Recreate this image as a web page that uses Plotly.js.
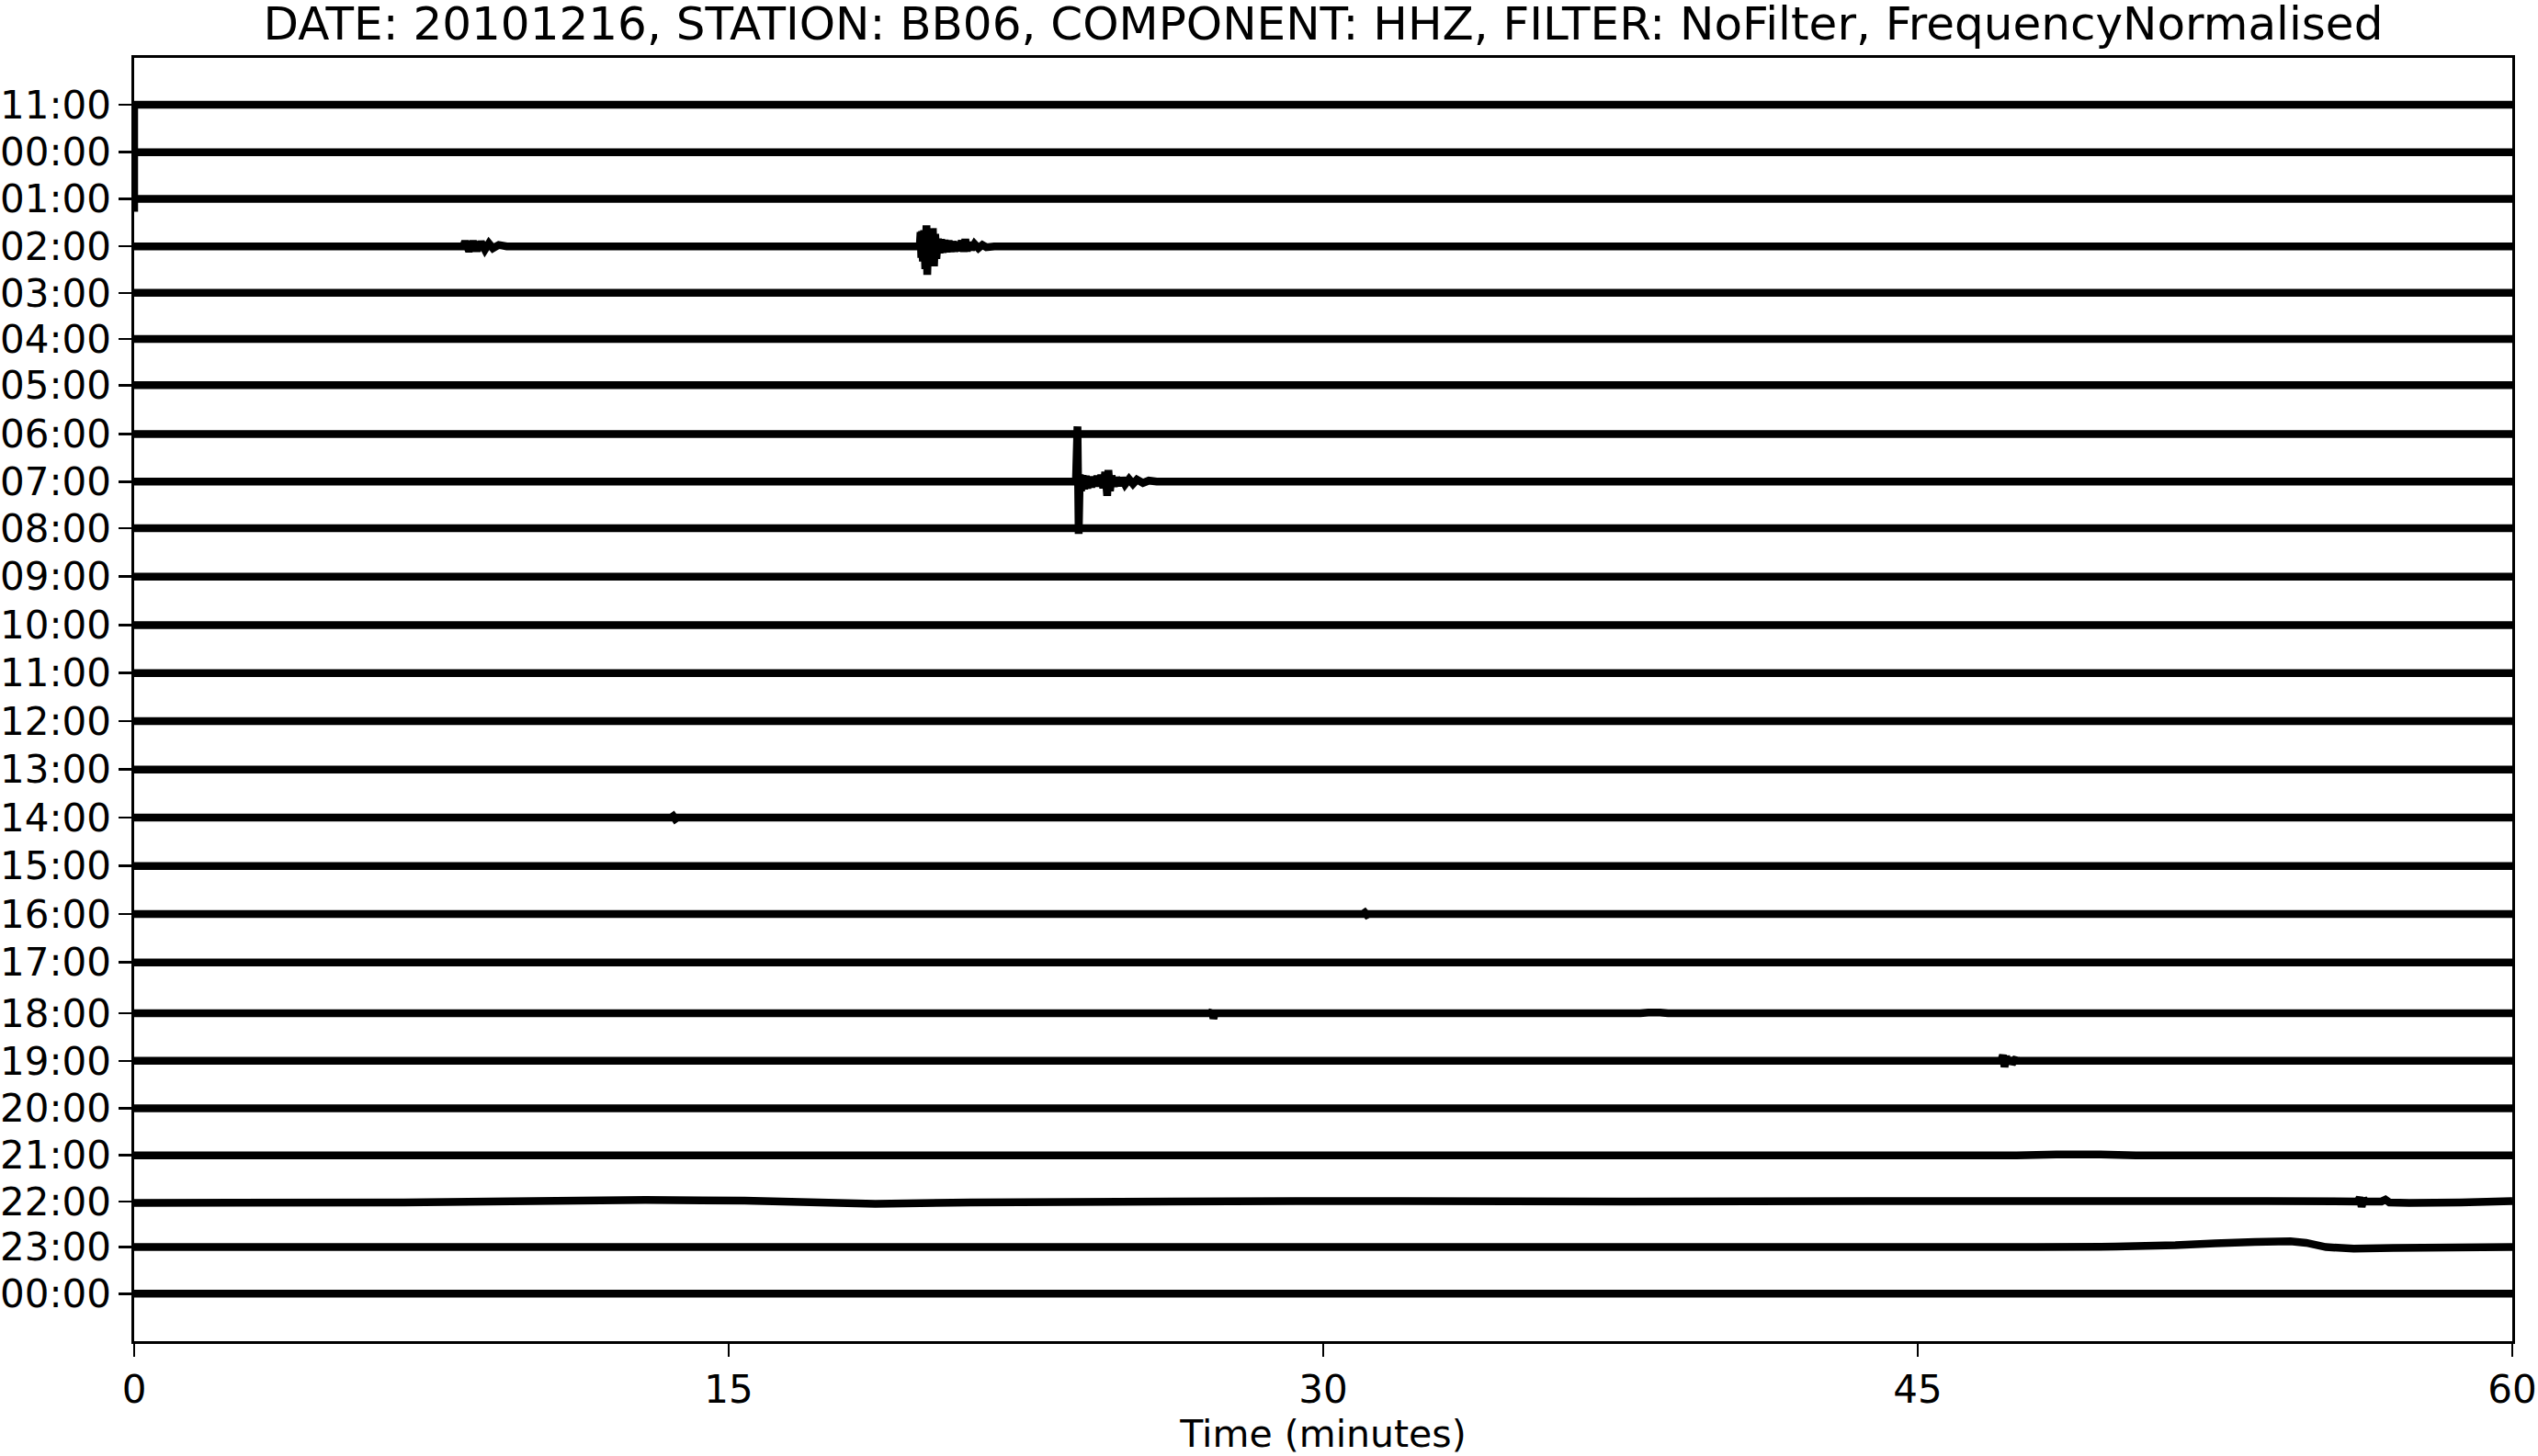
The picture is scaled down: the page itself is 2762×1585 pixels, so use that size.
<!DOCTYPE html>
<html>
<head>
<meta charset="utf-8">
<script src="https://cdn.plot.ly/plotly-3.0.1.min.js"></script>
<style>html,body{margin:0;padding:0;background:#fff;}#chart{width:2762px;height:1585px;}</style>
</head>
<body>
<div id="chart"></div>
<script>
// ---- data ----
const hourLabels = ['11:00','00:00','01:00','02:00','03:00','04:00','05:00','06:00','07:00',
  '08:00','09:00','10:00','11:00','12:00','13:00','14:00','15:00','16:00','17:00','18:00',
  '19:00','20:00','21:00','22:00','23:00','00:00'];
// vertical offset of each trace (row units)
const rowOffsets = [0, -1, -1.98, -2.98, -3.96, -4.93, -5.9, -6.93, -7.93, -8.91, -9.93, -10.95,
  -11.96, -12.97, -13.99, -15, -16.02, -17.03, -18.05, -19.12, -20.12, -21.12, -22.11, -23.08,
  -24.04, -25.02];
const xTicks = [0, 15, 30, 45, 60];

// row 0 (11:00): start of the record
const row00Minutes = [0, 0, 0.05, 60];
const row00Amp     = [-2.25, 0, 0, 0];

// row 3 (02:00): small event ~8.5 min and larger event ~20 min
const row03Minutes = [0, 8.3, 8.35, 8.45, 8.55, 8.65, 8.75, 8.85, 8.95, 9.05, 9.2, 9.4,
  19.82, 19.84, 19.86, 19.88, 19.90, 19.93, 19.96, 19.99, 20.01, 20.04, 20.07, 20.10, 20.13,
  20.15, 20.18, 20.21, 20.24, 20.28, 20.32, 20.36, 20.40, 20.45, 20.50, 20.55, 20.60, 20.65,
  20.70, 20.76, 20.82, 20.88, 20.93, 20.97, 21.01, 21.06, 21.12, 21.2, 21.3, 21.4, 21.5, 21.7, 60];
const row03Amp = [0, 0, 0.1, -0.1, 0.1, -0.09, 0.09, -0.07, 0.06, -0.04, 0.03, 0,
  0, 0.3, -0.24, 0.32, -0.32, 0.34, -0.48, 0.44, -0.6, 0.32, -0.37, 0.32, -0.32,
  0.38, -0.42, 0.26, -0.26, 0.16, -0.14, 0.15, -0.13, 0.13, -0.12, 0.12, -0.11, 0.10,
  -0.10, 0.09, -0.09, 0.12, -0.11, 0.15, -0.10, 0.08, -0.06, 0.05, -0.04, 0.03, -0.02, 0, 0];

// row 8 (07:00): strong spike ~23.8 min with coda
const row08Minutes = [0, 23.76, 23.80, 23.83, 23.86, 23.89, 23.93, 23.97, 24.01, 24.05, 24.10,
  24.15, 24.20, 24.25, 24.30, 24.35, 24.40, 24.45, 24.50, 24.55, 24.58, 24.62, 24.66, 24.72,
  24.78, 24.85, 24.92, 25.0, 25.1, 25.2, 25.3, 25.45, 25.6, 25.8, 60];
const row08Amp = [0, 0, 1.16, -1.1, 0.15, -0.2, 0.13, -0.16, 0.12, -0.14, 0.1,
  -0.12, 0.1, -0.1, 0.12, -0.1, 0.14, -0.14, 0.2, -0.3, 0.24, -0.2, 0.12, -0.1,
  0.08, -0.08, 0.07, -0.06, 0.05, -0.05, 0.04, -0.03, 0.02, 0, 0];

// row 15 (14:00) and row 17 (16:00): tiny blips
const row15Minutes = [0, 13.55, 13.6, 13.65, 13.7, 60];
const row15Amp     = [0, 0, 0.03, -0.03, 0, 0];
const row17Minutes = [0, 31.0, 31.05, 31.1, 31.15, 60];
const row17Amp     = [0, 0, 0.03, -0.02, 0, 0];

// row 19 (18:00): blips ~27.2 and ~38.3 min
const row19Minutes = [0, 27.15, 27.2, 27.23, 27.27, 38.0, 38.2, 38.5, 38.7, 60];
const row19Amp     = [0, 0, 0.05, -0.11, 0, 0, 0.015, 0.015, 0, 0];

// row 20 (19:00): blip ~47.2 min
const row20Minutes = [0, 47.1, 47.15, 47.19, 47.23, 47.27, 47.33, 47.38, 47.45, 47.55, 60];
const row20Amp     = [0, 0, 0.12, -0.13, 0.1, -0.05, 0.06, -0.06, 0.02, 0, 0];

// row 22 (21:00): slight swell ~49 min
const row22Minutes = [0, 47.5, 48.5, 49.5, 50.5, 60];
const row22Amp     = [0, 0, 0.02, 0.02, 0, 0];

// row 23 (22:00): wavy baseline, blip ~56.2 min
const row23Minutes = [0, 6.8, 12.9, 15.4, 18.7, 21.1, 29.3, 37.5, 45.6, 53.8, 56.1, 56.15,
  56.2, 56.25, 56.3, 56.7, 56.8, 56.9, 57.4, 58.7, 60];
const row23Amp = [-0.03, -0.02, 0.03, 0.02, -0.05, -0.02, 0.01, 0, 0.01, 0.01, 0.0, 0.08,
  -0.11, 0.05, 0, 0, 0.04, -0.02, -0.03, -0.02, 0.01];

// row 24 (23:00): long-period bump ~54 min
const row24Minutes = [0, 48, 50, 51.5, 52.5, 53.5, 54.4, 54.8, 55.3, 56, 57, 60];
const row24Amp     = [0, 0, 0.01, 0.04, 0.08, 0.11, 0.12, 0.09, 0.0, -0.03, -0.02, 0];

const defaultMinutes = [0, 60];
const defaultAmp = [0, 0];

// ---- build traces ----
const rowFeatures = {
  0: [row00Minutes, row00Amp], 3: [row03Minutes, row03Amp], 8: [row08Minutes, row08Amp],
  15: [row15Minutes, row15Amp], 17: [row17Minutes, row17Amp], 19: [row19Minutes, row19Amp],
  20: [row20Minutes, row20Amp], 22: [row22Minutes, row22Amp], 23: [row23Minutes, row23Amp],
  24: [row24Minutes, row24Amp]
};

const traces = rowOffsets.map((off, i) => {
  const f = rowFeatures[i] || [defaultMinutes, defaultAmp];
  return {
    type: 'scatter', mode: 'lines',
    x: f[0], y: f[1].map(a => a + off),
    line: {color: '#000', width: 8.5, simplify: false},
    hoverinfo: 'skip', showlegend: false
  };
});

const font = 'DejaVu Sans, Liberation Sans, sans-serif';
const layout = {
  width: 2762, height: 1585,
  margin: {l: 146, r: 28, t: 63, b: 125, pad: 0},
  paper_bgcolor: '#fff', plot_bgcolor: '#fff',
  showlegend: false,
  title: {
    text: 'DATE: 20101216, STATION: BB06, COMPONENT: HHZ, FILTER: NoFilter, FrequencyNormalised',
    font: {family: font, size: 50, color: '#000'},
    xref: 'paper', x: 0.5, xanchor: 'center',
    yref: 'container', y: 1 - 25 / 1585, yanchor: 'middle'
  },
  xaxis: {
    range: [0, 60], tickvals: xTicks, ticktext: xTicks.map(String),
    showgrid: false, zeroline: false,
    showline: true, linecolor: '#000', linewidth: 2.6, mirror: true,
    ticks: 'outside', ticklen: 14, tickwidth: 2.6, tickcolor: '#000',
    tickfont: {family: font, size: 42, color: '#000'},
    title: {text: 'Time (minutes)', font: {family: font, size: 41, color: '#000'}, standoff: 14},
    automargin: false
  },
  yaxis: {
    range: [-26.02, 0.986], tickvals: rowOffsets, ticktext: hourLabels,
    showgrid: false, zeroline: false,
    showline: true, linecolor: '#000', linewidth: 2.6, mirror: true,
    ticks: 'outside', ticklen: 14, tickwidth: 2.6, tickcolor: '#000',
    tickfont: {family: font, size: 42, color: '#000'},
    automargin: false
  }
};

Plotly.newPlot('chart', traces, layout, {staticPlot: true, displayModeBar: false});
</script>
</body>
</html>
